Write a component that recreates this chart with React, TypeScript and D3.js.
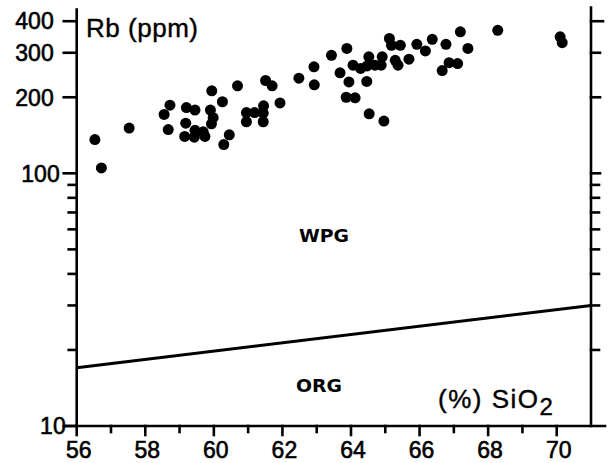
import React from "react";
import * as d3 from "d3";

// Granite samples: SiO2 (wt %) against Rb (ppm)
const SIO2 = [
  56.53, 56.72, 57.53, 58.72, 58.55, 58.67, 59.2, 59.45, 59.18, 59.15, 59.43, 59.45, 59.69, 59.74,
  59.94, 59.9, 59.98, 59.93, 60.25, 60.69, 60.45, 60.29, 60.95, 60.95, 61.19, 61.45, 61.44, 61.44,
  61.51, 61.7, 61.93, 62.48, 62.92, 62.93, 63.43, 63.88, 63.68, 63.94, 63.86, 64.12, 64.06, 64.28,
  64.52, 64.47, 64.46, 64.7, 64.91, 64.88, 64.53, 64.96, 65.12, 65.18, 65.44, 65.29, 65.37, 65.69,
  65.92, 66.17, 66.37, 66.77, 66.66, 66.86, 67.11, 67.19, 67.41, 68.28, 70.1, 70.16,
];
const RB = [
  136, 105, 151, 186, 171, 149, 182, 178, 158, 140, 139, 148, 146, 140,
  212, 178, 166, 157, 192, 222, 142, 130, 174, 160, 174, 185, 173, 160,
  233, 222, 190, 238, 264, 224, 293, 312, 250, 230, 200, 199, 268, 260,
  289, 266, 231, 268, 289, 268, 172, 161, 342, 321, 321, 280, 268, 283,
  324, 305, 339, 324, 255, 274, 272, 363, 312, 368, 347, 329,
];

// ORG / WPG discriminant boundary
const BOUNDARY_SIO2 = [56, 71];
const BOUNDARY_RB = [17, 30];

const X_LABELS = [56, 58, 60, 62, 64, 66, 68, 70];
const X_MINOR = [57, 59, 61, 63, 65, 67, 69];
const Y_LABELS = [10, 100, 200, 300, 400];
const Y_MINOR = [20, 30, 40, 50, 60, 70, 80, 90];

const W = 608;
const H = 463;
const FONT = "'Liberation Sans', Arial, Helvetica, sans-serif";

export default function App() {
  const x = d3.scaleLinear().domain([56, 71]).range([76.7, 591]);
  const y = d3.scaleLog().domain([10, 445]).range([426, 9.5]);
  const left = x(56);
  const right = x(71);
  const bottom = y(10);
  const top = y(445);

  const line = d3
    .line<number>()
    .x((_, i) => x(BOUNDARY_SIO2[i]))
    .y((d) => y(d));

  const sw = 2.6;

  return (
    <svg
      width={W}
      height={H}
      style={{ position: "absolute", left: 0, top: 0, background: "#fff" }}
    >
      <g stroke="#000" strokeWidth={sw} fill="none" strokeLinecap="square">
        {/* frame */}
        <line x1={left} y1={top} x2={left} y2={bottom} />
        <line x1={right} y1={top - 2} x2={right} y2={bottom} />
        <line x1={65} y1={bottom} x2={605} y2={bottom} />

        {/* left axis ticks */}
        {Y_LABELS.map((v) => (
          <line key={"ly" + v} x1={left - 13} y1={y(v)} x2={left} y2={y(v)} />
        ))}
        {Y_MINOR.map((v) => (
          <line key={"lym" + v} x1={left - 8} y1={y(v)} x2={left} y2={y(v)} />
        ))}

        {/* right axis ticks */}
        {Y_LABELS.filter((v) => v > 10).map((v) => (
          <line key={"ry" + v} x1={right} y1={y(v)} x2={right + (v === 400 ? 12 : 9)} y2={y(v)} />
        ))}
        {Y_MINOR.map((v) => (
          <line key={"rym" + v} x1={right} y1={y(v)} x2={right + 8} y2={y(v)} />
        ))}

        {/* bottom axis ticks */}
        {X_LABELS.map((v) => (
          <line key={"x" + v} x1={x(v)} y1={bottom} x2={x(v)} y2={bottom + 9} />
        ))}
        {X_MINOR.map((v) => (
          <line key={"xm" + v} x1={x(v)} y1={bottom} x2={x(v)} y2={bottom + 6} />
        ))}
      </g>

      {/* boundary line */}
      <path
        d={line(BOUNDARY_RB) || ""}
        stroke="#000"
        strokeWidth={3}
        fill="none"
      />

      {/* samples */}
      <g fill="#000">
        {SIO2.map((s, i) => (
          <circle key={i} cx={x(s)} cy={y(RB[i])} r={5.5} />
        ))}
      </g>

      {/* axis labels */}
      <g
        fontFamily={FONT}
        fontSize={23}
        fill="#000"
        stroke="#000"
        strokeWidth={0.6}
      >
        {Y_LABELS.map((v) => (
          <text
            key={"yl" + v}
            x={v === 10 ? left - 11 : v === 100 ? left - 17 : left - 23}
            y={y(v)}
            dy="0.36em"
            textAnchor="end"
          >
            {v}
          </text>
        ))}
        {X_LABELS.map((v) => (
          <text key={"xl" + v} x={x(v) + 2} y={bottom + 32} textAnchor="middle">
            {v}
          </text>
        ))}
      </g>

      <g fontFamily={FONT} fill="#000" stroke="#000" strokeWidth={0.4}>
        <text x={86} y={37} fontSize={26} textLength={112} lengthAdjust="spacing">
          Rb (ppm)
        </text>
        <text x={438} y={408} fontSize={26} letterSpacing={1.5}>
          (%) SiO
          <tspan fontSize={24} dy={7}>
            2
          </tspan>
        </text>
      </g>

      <g fontFamily="'DejaVu Sans', Arial, sans-serif" fontWeight="bold" fill="#000">
        <text x={299} y={242} fontSize={17} textLength={50} lengthAdjust="spacingAndGlyphs">
          WPG
        </text>
        <text x={296} y={392} fontSize={17} textLength={46} lengthAdjust="spacingAndGlyphs">
          ORG
        </text>
      </g>
    </svg>
  );
}
